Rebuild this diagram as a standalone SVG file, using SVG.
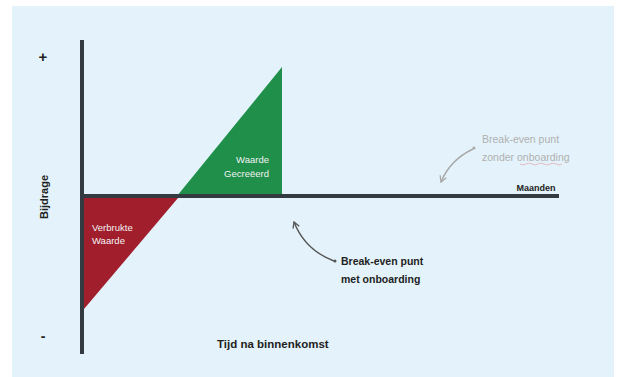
<svg xmlns="http://www.w3.org/2000/svg" width="617" height="377" viewBox="0 0 617 377">
<style>
text{font-family:"Liberation Sans","Open Sans",Arial,sans-serif}
.b{font-weight:bold;fill:#222}
.w{fill:#f2f2f2;font-size:9.5px}
.g{fill:#b0b0b0;font-size:10.5px}
.ax{stroke:#333a40;stroke-width:4;fill:none}
.cv{fill:none;stroke-width:1.4}
</style>
<defs>
<marker id="ag" viewBox="0 0 10 10" refX="8" refY="5" markerWidth="6" markerHeight="6" orient="auto"><path d="M1,1 L8,5 L1,9" fill="none" stroke="#a8a8a8" stroke-width="1.5"/></marker>
<marker id="ad" viewBox="0 0 10 10" refX="8" refY="5" markerWidth="6" markerHeight="6" orient="auto"><path d="M1,1 L8,5 L1,9" fill="none" stroke="#555" stroke-width="1.5"/></marker>
</defs>
<rect width="617" height="377" fill="#ffffff"/>
<rect x="12" y="6" width="602" height="371" fill="#e4f3fb"/>
<g id="verbruikt">
<polygon points="84,198 178,198 84,309" fill="#a11e2d"/>
<text class="w" x="92" y="231">Verbrukte</text>
<text class="w" x="92" y="244">Waarde</text>
</g>
<g id="gecreeerd">
<polygon points="177,196 282,67 282,196" fill="#1f8f4a"/>
<text class="w" x="269" y="163" text-anchor="end">Waarde</text>
<text class="w" x="269" y="177" text-anchor="end">Gecreëerd</text>
</g>
<g id="assen">
<line class="ax" x1="82" y1="40" x2="82" y2="354"/>
<line class="ax" x1="82" y1="196" x2="559" y2="196"/>
<text class="b" x="43" y="62" font-size="15" text-anchor="middle">+</text>
<text class="b" x="43" y="341" font-size="14" text-anchor="middle">-</text>
<text class="b" font-size="11" text-anchor="middle" transform="translate(48,197) rotate(-90)">Bijdrage</text>
<text class="b" x="217" y="348" font-size="11.5">Tijd na binnenkomst</text>
<text class="b" x="536" y="191" font-size="9" text-anchor="middle">Maanden</text>
</g>
<g id="zonder">
<text class="g" x="482" y="143">Break-even punt</text>
<text class="g" x="482" y="161">zonder onboarding</text>
<path d="M520,164 q3,2 6,0 q3,-2 6,0 q3,2 6,0 q3,-2 6,0 q3,2 6,0 q3,-2 6,0 q3,2 6,0" fill="none" stroke="#e09a9a" stroke-width="0.6"/>
</g>
<g id="met">
<text class="b" x="341" y="265" font-size="10.5">Break-even punt</text>
<text class="b" x="341" y="283" font-size="10.5">met onboarding</text>
</g>
<g id="connectors">
<path class="cv" d="M473,149 Q450,160 441,182" stroke="#a8a8a8" marker-end="url(#ag)"/>
<circle cx="474" cy="148" r="1.5" fill="#a8a8a8"/>
<path class="cv" d="M334,261 Q305,250 294,222" stroke="#555" marker-end="url(#ad)"/>
<circle cx="335" cy="261" r="1.5" fill="#555"/>
</g>
</svg>
